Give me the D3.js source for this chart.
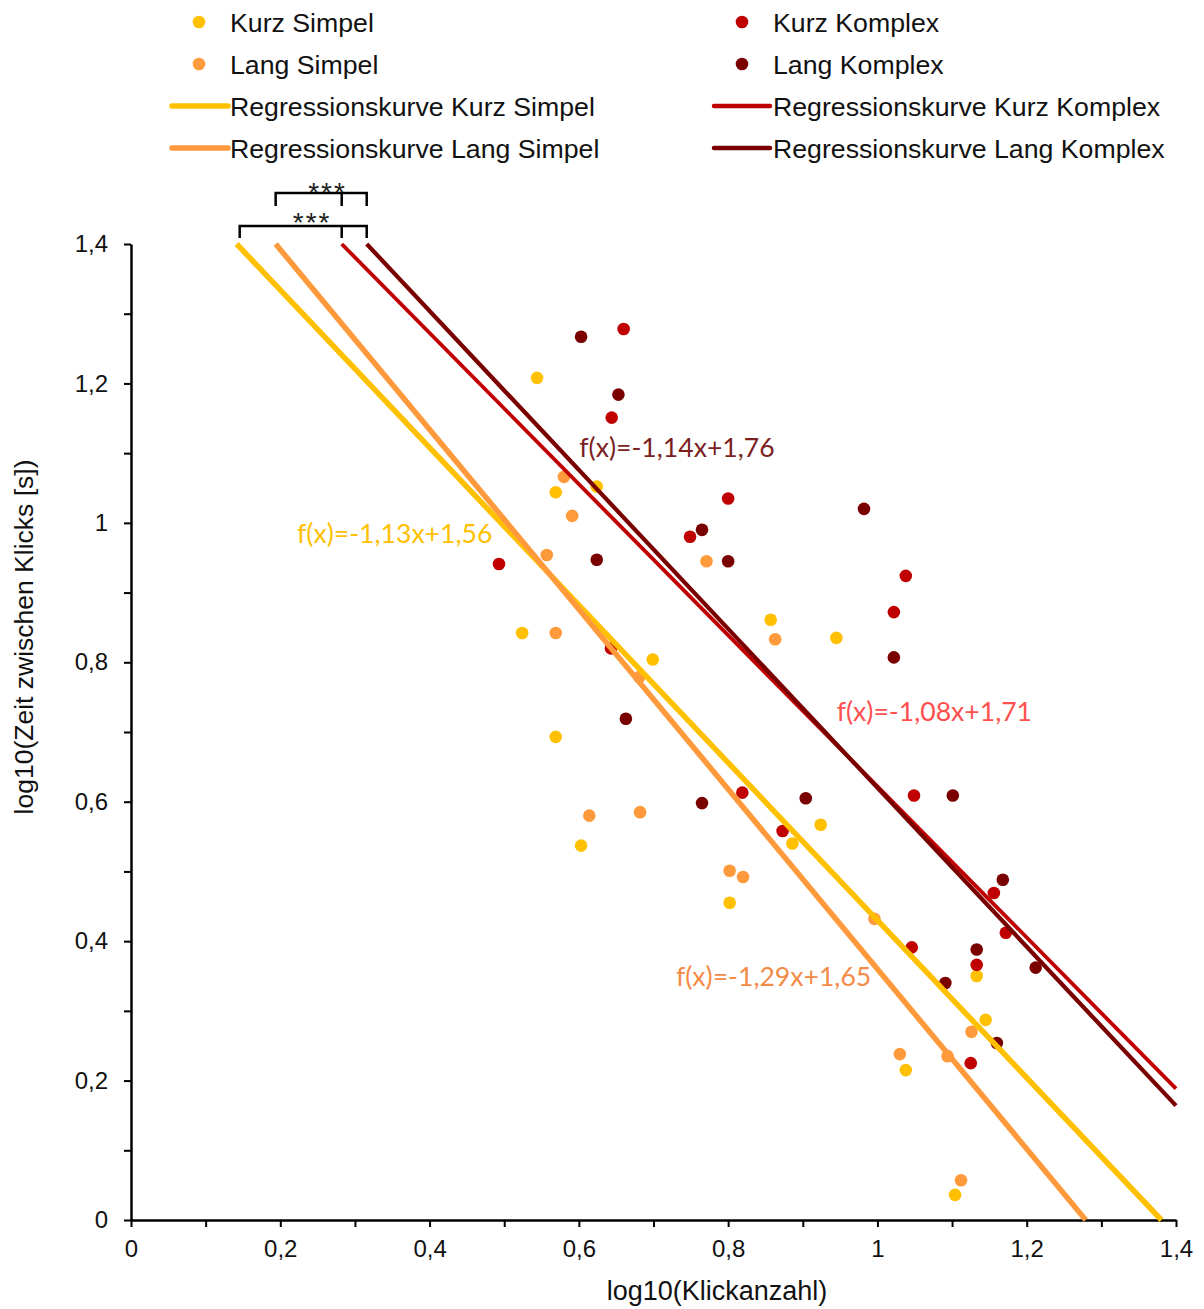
<!DOCTYPE html>
<html>
<head>
<meta charset="utf-8">
<script src="https://cdn.jsdelivr.net/npm/d3@7"></script>
<style>
  html, body { margin: 0; padding: 0; background: #fff; }
  svg { display: block; }
</style>
</head>
<body>
<div class="chart"></div>
<script>
// series names and colors
const seriesNames = ["Kurz Simpel", "Lang Simpel", "Kurz Komplex", "Lang Komplex"];
const seriesColors = ["#FFC000", "#FF9A3C", "#C00000", "#7A0000"];

// points [log10(Klickanzahl), log10(Zeit zwischen Klicks)]
const kurzSimpel = [[0.544,1.208],[0.569,1.044],[0.624,1.052],[0.524,0.842],[0.699,0.804],[0.857,0.861],
  [0.945,0.835],[0.569,0.693],[0.603,0.537],[0.924,0.567],[0.886,0.540],[0.802,0.455],[1.133,0.350],
  [1.145,0.287],[1.038,0.215],[1.104,0.036]];
const langSimpel = [[0.580,1.066],[0.591,1.010],[0.557,0.954],[0.771,0.945],[0.569,0.842],[0.681,0.779],
  [0.863,0.833],[0.614,0.580],[0.682,0.585],[0.802,0.501],[0.820,0.492],[0.996,0.432],[1.126,0.270],
  [1.030,0.238],[1.094,0.235],[1.112,0.057]];
const kurzKomplex = [[0.660,1.278],[0.644,1.151],[0.493,0.941],[0.749,0.980],[0.800,1.035],[0.643,0.820],
  [1.038,0.924],[1.022,0.872],[0.819,0.613],[0.873,0.558],[1.049,0.609],[1.156,0.469],[1.172,0.412],
  [1.046,0.391],[1.133,0.366],[1.125,0.225]];
const langKomplex = [[0.603,1.267],[0.653,1.184],[0.624,0.947],[0.765,0.990],[0.800,0.945],[0.982,1.020],
  [1.022,0.807],[0.663,0.719],[0.765,0.598],[0.904,0.605],[1.101,0.609],[1.168,0.488],[1.133,0.388],
  [1.212,0.362],[1.091,0.340],[1.160,0.254]];

// regression lines y = m*x + b
const slopes = [-1.13, -1.29, -1.084, -1.14];
const intercepts = [1.56, 1.65, 1.706, 1.76];
const equationTexts = ["f(x)=-1,13x+1,56", "f(x)=-1,29x+1,65", "f(x)=-1,08x+1,71", "f(x)=-1,14x+1,76"];
const equationColors = ["#FFC000", "#F38B48", "#FF5050", "#7B1F1F"];
const equationAnchors = [[0.2224, 0.971], [0.730, 0.336], [0.9454, 0.716], [0.6006, 1.095]];

// ticks
const tickValues = d3.range(0, 15).map(i => i / 10);
const tickLabels = ["0", "", "0,2", "", "0,4", "", "0,6", "", "0,8", "", "1", "", "1,2", "", "1,4"];

const points = [kurzSimpel, langSimpel, kurzKomplex, langKomplex];

const totalWidth = 1204, totalHeight = 1309;
const margin = {top: 244, right: 28, bottom: 89, left: 131};
const arial = "'Liberation Sans', Arial, sans-serif";
const calibri = "Lato, 'Open Sans', sans-serif";

const x = d3.scaleLinear().domain([0, 1.4]).range([margin.left, totalWidth - margin.right]);
const y = d3.scaleLinear().domain([0, 1.4]).range([totalHeight - margin.bottom, margin.top]);

const svg = d3.select('.chart').append('svg')
  .attr('width', totalWidth).attr('height', totalHeight)
  .style('background', '#fff');

// axes
svg.append('g')
  .attr('transform', `translate(0,${y(0)})`)
  .call(d3.axisBottom(x).tickValues(tickValues).tickFormat((d, i) => tickLabels[i]).tickSize(7).tickSizeOuter(0).tickPadding(13))
  .call(g => g.select('.domain').attr('stroke-width', 2.5))
  .call(g => g.selectAll('.tick line').attr('stroke-width', 2))
  .call(g => g.selectAll('text').attr('font-family', arial).attr('font-size', 24).attr('fill', '#111'));

svg.append('g')
  .attr('transform', `translate(${x(0)},0)`)
  .call(d3.axisLeft(y).tickValues(tickValues).tickFormat((d, i) => tickLabels[i]).tickSize(7).tickSizeOuter(0).tickPadding(16))
  .call(g => g.select('.domain').attr('stroke-width', 2.5))
  .call(g => g.selectAll('.tick line').attr('stroke-width', 2))
  .call(g => g.selectAll('text').attr('font-family', arial).attr('font-size', 24).attr('fill', '#111'));

svg.append('text')
  .attr('x', 717)
  .attr('y', 1300)
  .attr('text-anchor', 'middle')
  .attr('font-family', arial).attr('font-size', 27).attr('fill', '#111')
  .text('log10(Klickanzahl)');

svg.append('text')
  .attr('transform', `translate(33,637) rotate(-90)`)
  .attr('text-anchor', 'middle')
  .attr('font-family', arial).attr('font-size', 26.5).attr('fill', '#111')
  .text('log10(Zeit zwischen Klicks [s])');

// points
points.forEach((pts, i) => {
  svg.append('g').selectAll('circle')
    .data(pts)
    .join('circle')
      .attr('cx', d => x(d[0]))
      .attr('cy', d => y(d[1]))
      .attr('r', 6.3)
      .attr('fill', seriesColors[i]);
});

// regression lines, clipped to the plot box
const lineWidths = [5.5, 5.5, 3.8, 4.2];
const lineEnds = slopes.map((m, i) => {
  const b = intercepts[i];
  const xs = (1.4 - b) / m;
  const xe = Math.min(-b / m, 1.4);
  return [[xs, m * xs + b], [xe, m * xe + b]];
});
const line = d3.line().x(d => x(d[0])).y(d => y(d[1]));
lineEnds.forEach((ends, i) => {
  svg.append('path')
    .attr('d', line(ends))
    .attr('fill', 'none')
    .attr('stroke', seriesColors[i])
    .attr('stroke-width', lineWidths[i]);
});

// equations
equationTexts.forEach((t, i) => {
  svg.append('text')
    .attr('x', x(equationAnchors[i][0]))
    .attr('y', y(equationAnchors[i][1]))
    .attr('font-family', calibri).attr('font-size', 26.6)
    .attr('fill', equationColors[i])
    .text(t);
});

// significance brackets between simple and complex lines
const topX = lineEnds.map(e => x(e[0][0]));
const brackets = [
  {left: topX[1], mid: topX[2], right: topX[3], yLine: margin.top - 51, yEnd: margin.top - 38},
  {left: topX[0] + 3, mid: topX[2], right: topX[3], yLine: margin.top - 18, yEnd: margin.top - 6}
];
brackets.forEach((b, k) => {
  svg.append('path')
    .attr('d', `M${b.left},${b.yEnd}V${b.yLine}H${b.right}V${b.yEnd}M${b.mid},${b.yLine}V${b.yEnd}`)
    .attr('fill', 'none').attr('stroke', '#000').attr('stroke-width', 2.5);
  svg.append('text')
    .attr('x', b.left + (b.right - b.left) * 0.57)
    .attr('y', b.yLine + (k === 0 ? 9 : 6))
    .attr('text-anchor', 'middle')
    .attr('font-family', arial).attr('font-size', 28).attr('letter-spacing', 2)
    .attr('fill', '#222')
    .text('***');
});

// legend
const legendCols = [{dot: 199, x0: 172, x1: 228, text: 230}, {dot: 742, x0: 714, x1: 770, text: 773}];
const legendRows = [22, 64, 106, 148];
const legend = svg.append('g');
seriesNames.forEach((name, i) => {
  const col = legendCols[i < 2 ? 0 : 1];
  const r = i % 2;
  legend.append('circle')
    .attr('cx', col.dot).attr('cy', legendRows[r]).attr('r', 6.3)
    .attr('fill', seriesColors[i]);
  legend.append('text')
    .attr('x', col.text).attr('y', legendRows[r]).attr('dy', '0.36em')
    .attr('font-family', arial).attr('font-size', 26.7).attr('fill', '#111')
    .text(name);
  legend.append('line')
    .attr('x1', col.x0).attr('x2', col.x1)
    .attr('y1', legendRows[r + 2]).attr('y2', legendRows[r + 2])
    .attr('stroke', seriesColors[i]).attr('stroke-width', i < 2 ? 5.5 : 4.5)
    .attr('stroke-linecap', 'round');
  legend.append('text')
    .attr('x', col.text).attr('y', legendRows[r + 2]).attr('dy', '0.36em')
    .attr('font-family', arial).attr('font-size', 26.7).attr('fill', '#111')
    .text('Regressionskurve ' + name);
});
</script>
</body>
</html>
